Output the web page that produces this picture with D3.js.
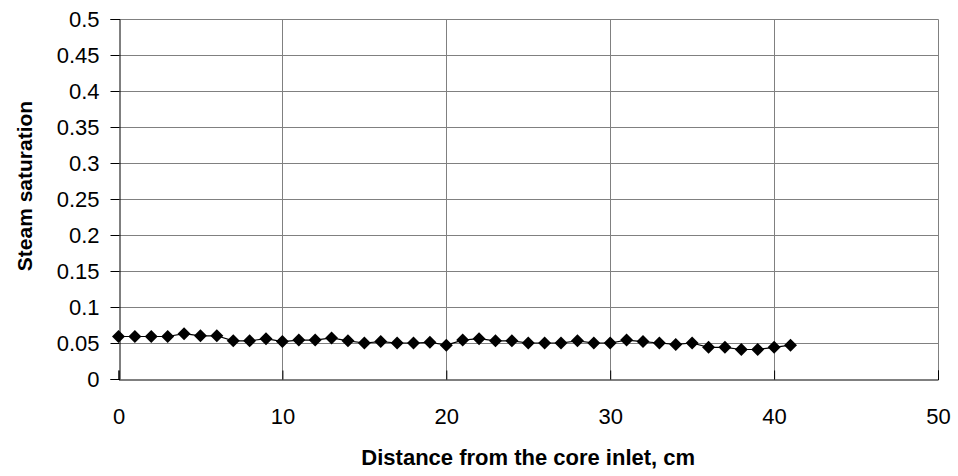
<!DOCTYPE html>
<html>
<head>
<meta charset="utf-8">
<script src="https://cdn.jsdelivr.net/npm/d3@7"></script>
<style>
  body { margin: 0; background: #fff; }
  svg { display: block; font-family: "Liberation Sans", Arial, sans-serif; }
</style>
</head>
<body>
<svg id="chart" width="958" height="476"></svg>
<script>
// distance from the core inlet, cm
const distance = [0, 1, 2, 3, 4, 5, 6, 7, 8, 9, 10, 11, 12, 13, 14, 15, 16, 17, 18, 19, 20,
  21, 22, 23, 24, 25, 26, 27, 28, 29, 30, 31, 32, 33, 34, 35, 36, 37, 38, 39, 40, 41]
// steam saturation
const saturation = [0.059, 0.059, 0.059, 0.059, 0.063, 0.060, 0.060, 0.053, 0.053, 0.056, 0.052,
  0.054, 0.054, 0.057, 0.053, 0.050, 0.052, 0.050, 0.050, 0.051, 0.047,
  0.054, 0.056, 0.053, 0.053, 0.050, 0.050, 0.050, 0.053, 0.050, 0.050,
  0.054, 0.052, 0.050, 0.048, 0.050, 0.044, 0.044, 0.041, 0.041, 0.044, 0.047]
const xTicks = [0, 10, 20, 30, 40, 50]
const yTicks = [0, 0.05, 0.1, 0.15, 0.2, 0.25, 0.3, 0.35, 0.4, 0.45, 0.5]

const points = distance.map((d, i) => ({ x: d, y: saturation[i] }))

const margin = { top: 19, right: 20, bottom: 97, left: 118.5 }
const width = 958, height = 476
const svg = d3.select('#chart')

const x = d3.scaleLinear().domain([0, 50]).range([margin.left, width - margin.right])
const y = d3.scaleLinear().domain([0, 0.5]).range([height - margin.bottom, margin.top])
const px = v => Math.round(v) + 0.5

// 网格线
svg.append('g')
  .selectAll('line')
  .data(yTicks.slice(1))
  .join('line')
  .attr('x1', px(x(0))).attr('x2', px(x(50)))
  .attr('y1', d => px(y(d))).attr('y2', d => px(y(d)))
  .attr('stroke', '#808080')

svg.append('g')
  .selectAll('line')
  .data(xTicks.slice(1))
  .join('line')
  .attr('y1', px(y(0))).attr('y2', px(y(0.5)))
  .attr('x1', d => px(x(d))).attr('x2', d => px(x(d)))
  .attr('stroke', '#808080')

// 坐标轴
const xAxis = svg.append('g')
  .attr('transform', `translate(0,${px(y(0))})`)
  .call(d3.axisBottom(x).tickValues(xTicks).tickSize(-9).tickPadding(29).tickFormat(d3.format('d')))
xAxis.select('.domain').attr('stroke', '#000')
xAxis.selectAll('.tick line').attr('stroke', '#000')
xAxis.selectAll('text').attr('font-size', 22).attr('fill', '#000')
  .attr('font-family', '"Liberation Sans", Arial, sans-serif')

const yAxis = svg.append('g')
  .attr('transform', `translate(${px(x(0))},0)`)
  .call(d3.axisLeft(y).tickValues(yTicks).tickSize(9).tickPadding(11).tickFormat(d => String(+d.toFixed(2))))
yAxis.select('.domain').attr('stroke', '#000')
yAxis.selectAll('.tick line').attr('stroke', '#000')
yAxis.selectAll('text').attr('font-size', 22).attr('fill', '#000')
  .attr('font-family', '"Liberation Sans", Arial, sans-serif')

// 数据线
svg.append('path')
  .datum(points)
  .attr('fill', 'none')
  .attr('stroke', '#000')
  .attr('stroke-width', 1.2)
  .attr('d', d3.line().x(d => x(d.x)).y(d => y(d.y)))

// 菱形标记
svg.append('g')
  .selectAll('path')
  .data(points)
  .join('path')
  .attr('transform', d => `translate(${x(d.x)},${y(d.y)})`)
  .attr('d', 'M0,-6.5L6.5,0L0,6.5L-6.5,0Z')
  .attr('fill', '#000')

// 轴标题
svg.append('text')
  .attr('x', (x(0) + x(50)) / 2)
  .attr('y', 465)
  .attr('text-anchor', 'middle')
  .attr('font-size', 22)
  .attr('font-weight', 'bold')
  .text('Distance from the core inlet, cm')

svg.append('text')
  .attr('transform', 'translate(32,186) rotate(-90)')
  .attr('text-anchor', 'middle')
  .attr('font-size', 21)
  .attr('font-weight', 'bold')
  .text('Steam saturation')
</script>
</body>
</html>
